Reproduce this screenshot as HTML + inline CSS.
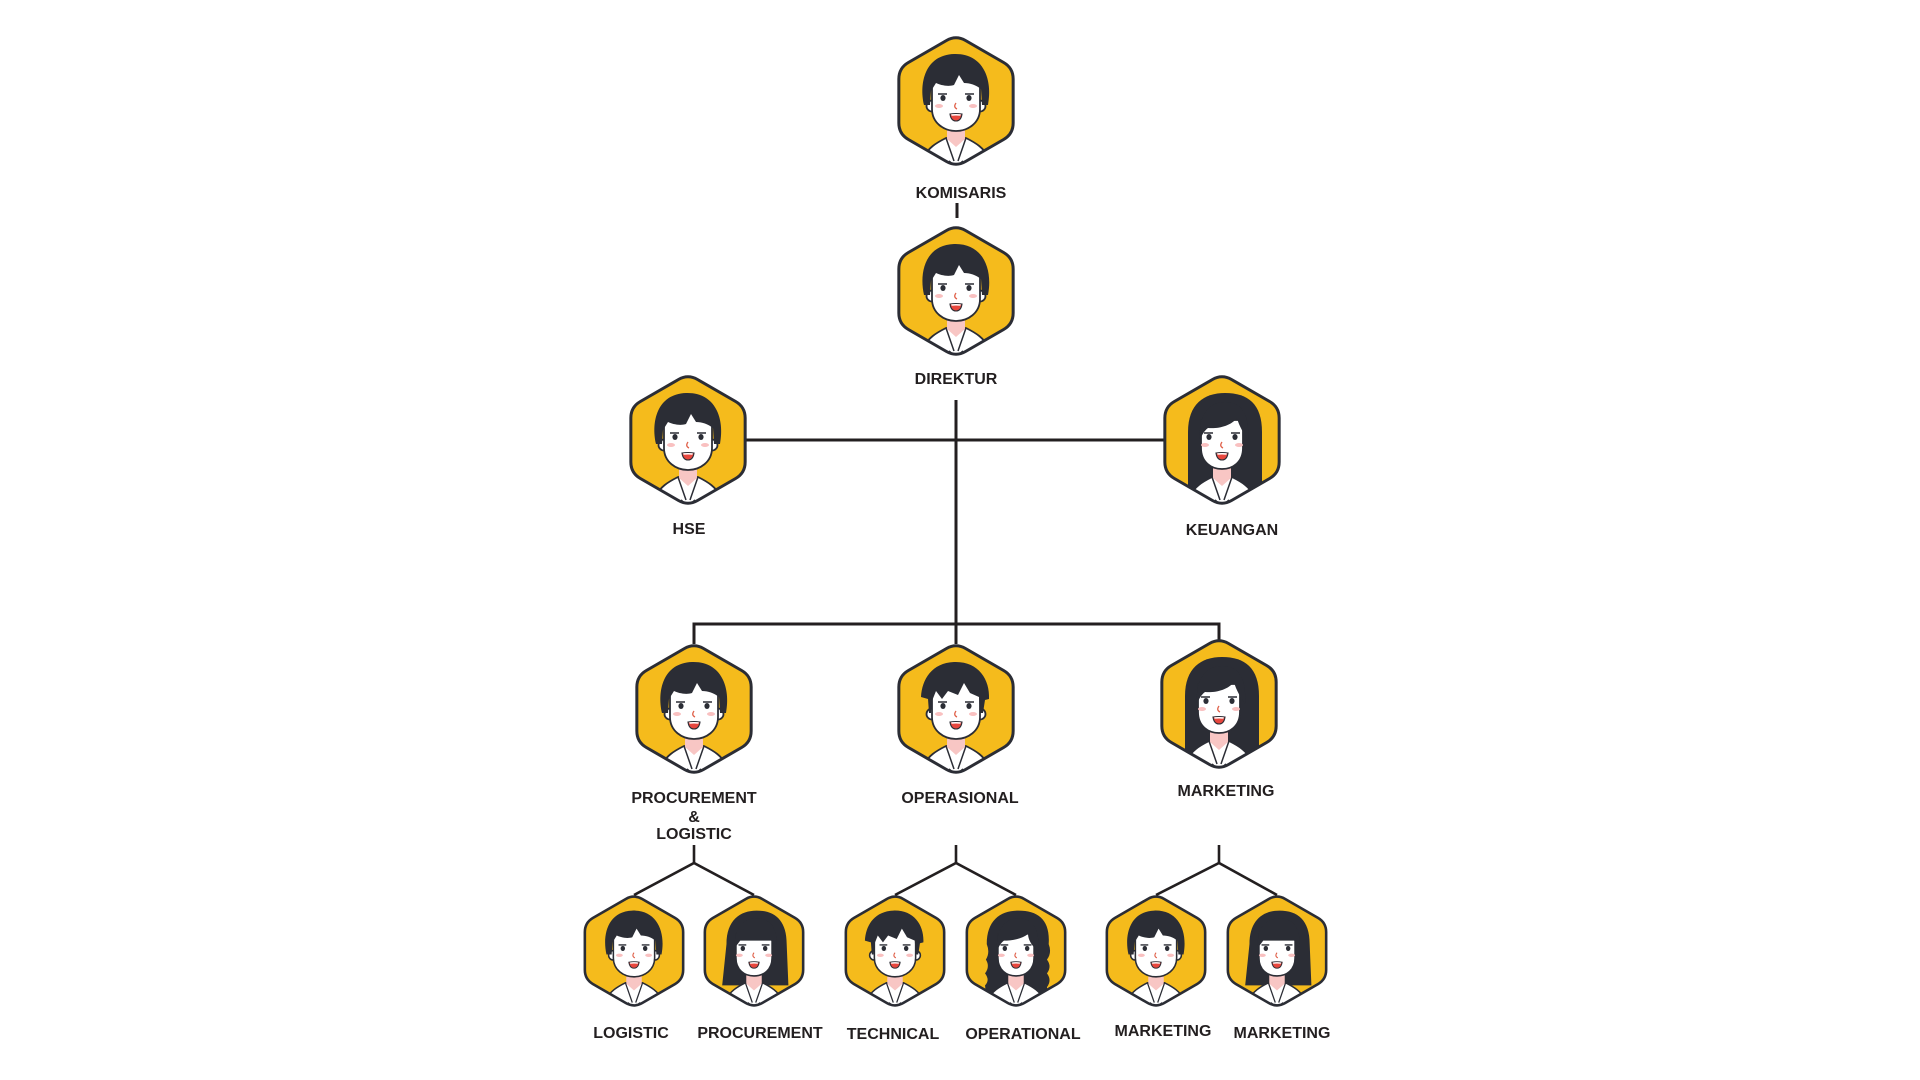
<!DOCTYPE html>
<html>
<head>
<meta charset="utf-8">
<style>
  html,body{margin:0;padding:0;background:#fff;}
  svg{display:block;}
  text{font-family:"Liberation Sans",Arial,sans-serif;font-weight:bold;font-size:16px;fill:#231f20;text-anchor:middle;}
</style>
</head>
<body>
<svg width="1920" height="1080" viewBox="0 0 1920 1080" xmlns="http://www.w3.org/2000/svg">
<defs>
  <path id="hexp" d="M-9.53,-60.5 Q0,-66 9.53,-60.5 L47.63,-38.5 Q57.16,-33 57.16,-22 L57.16,22 Q57.16,33 47.63,38.5 L9.53,60.5 Q0,66 -9.53,60.5 L-47.63,38.5 Q-57.16,33 -57.16,22 L-57.16,-22 Q-57.16,-33 -47.63,-38.5 Z"/>
  <clipPath id="hc"><use href="#hexp"/></clipPath>

  <!-- neck + shirt -->
  <g id="body">
    <path d="M-26,72 L-32,56 C-28,47 -20,42 -10,37 L10,37 C20,42 28,47 32,56 L26,72 Z" fill="#ffffff" stroke="#2b2d35" stroke-width="1.8" stroke-linejoin="round"/>
    <path d="M-9,18 L-9,38 L0,46 L9,38 L9,18 Z" fill="#f8c6c4"/>
    <path d="M-10,37 L-2,60 M10,37 L2,60 M-7,60 L0,66 L7,60" fill="none" stroke="#2b2d35" stroke-width="1.5"/>
  </g>

  <!-- facial features -->
  <g id="feat">
    <path d="M-18,-7 L-9,-7 M9,-7 L18,-7" stroke="#2b2d35" stroke-width="1.6" fill="none"/>
    <ellipse cx="-13" cy="-3" rx="2.6" ry="3" fill="#2b2d35"/>
    <ellipse cx="13" cy="-3" rx="2.6" ry="3" fill="#2b2d35"/>
    <ellipse cx="-17" cy="5" rx="4" ry="2" fill="#f9c0c0"/>
    <ellipse cx="17" cy="5" rx="4" ry="2" fill="#f9c0c0"/>
    <path d="M0,2 Q-3,6 1,8" stroke="#e0614a" stroke-width="1.3" fill="none"/>
    <path d="M-6,13 Q0,12 6,13 Q5,20 0,20 Q-5,20 -6,13 Z" fill="#e8473e" stroke="#2b2d35" stroke-width="1.1"/>
    <path d="M-4.8,13.3 Q0,12.6 4.8,13.3 L4.4,14.8 Q0,14.3 -4.4,14.8 Z" fill="#fff"/>
  </g>

  <!-- male face -->
  <g id="faceM">
    <circle cx="-24" cy="5" r="5.5" fill="#fff" stroke="#2b2d35" stroke-width="1.8"/>
    <circle cx="24" cy="5" r="5.5" fill="#fff" stroke="#2b2d35" stroke-width="1.8"/>
    <path d="M-24,-32 L-24,8 C-24,22 -12,30 0,30 C12,30 24,22 24,8 L24,-32 Z" fill="#fff" stroke="#2b2d35" stroke-width="1.8"/>
    <use href="#feat"/>
  </g>
  <!-- female face -->
  <g id="faceF">
    <path d="M-21,-20 L-21,8 C-21,22 -11,29 0,29 C11,29 21,22 21,8 L21,-20 Z" fill="#fff" stroke="#2b2d35" stroke-width="1.8"/>
    <use href="#feat"/>
  </g>

  <!-- avatar variants -->
  <g id="avM1">
    <use href="#hexp" fill="#F5BB1C"/>
    <g clip-path="url(#hc)">
      <use href="#body"/>
      <use href="#faceM"/>
      <path d="M-32,4 C-37,-18 -31,-46 -2,-47 C27,-48 37,-22 32,4 L26,4 L25,-12 C20,-16 14,-18 8,-18 L3,-26 L-2,-16 C-8,-14 -16,-16 -20,-18 L-25,-10 L-26,4 Z" fill="#2b2d35"/>
    </g>
    <use href="#hexp" fill="none" stroke="#2b2d35" stroke-width="3"/>
  </g>

  <g id="avM2">
    <use href="#hexp" fill="#F5BB1C"/>
    <g clip-path="url(#hc)">
      <use href="#body"/>
      <use href="#faceM"/>
      <path d="M-27,4 L-28,-10 L-35,-12 C-34,-30 -24,-46 -2,-47 C22,-48 34,-30 33,-10 L29,-9 L27,4 L24,4 L23,-12 L14,-16 L8,-26 L2,-14 L-8,-18 L-14,-10 L-20,-18 L-24,-8 L-25,4 Z" fill="#2b2d35"/>
    </g>
    <use href="#hexp" fill="none" stroke="#2b2d35" stroke-width="3"/>
  </g>

  <g id="avFL">
    <use href="#hexp" fill="#F5BB1C"/>
    <g clip-path="url(#hc)">
      <path d="M-34,60 L-34,-8 C-34,-36 -18,-47 3,-47 C26,-47 40,-36 40,-8 L40,60 Z" fill="#2b2d35"/>
      <use href="#body"/>
      <use href="#faceF"/>
      <path d="M-22,0 C-24,-26 -12,-38 3,-38 C18,-38 28,-28 26,0 C22,-6 17,-14 15,-22 C9,-14 -4,-11 -14,-12 C-18,-9 -20,-5 -22,0 Z" fill="#2b2d35"/>
    </g>
    <use href="#hexp" fill="none" stroke="#2b2d35" stroke-width="3"/>
  </g>

  <g id="avFW">
    <use href="#hexp" fill="#F5BB1C"/>
    <g clip-path="url(#hc)">
      <path d="M-34,60 L-36,40 Q-30,34 -36,26 Q-30,18 -35,10 Q-30,2 -34,-8 C-34,-36 -18,-47 3,-47 C26,-47 40,-36 38,-8 Q42,2 36,10 Q42,18 36,26 Q42,34 36,42 L38,60 Z" fill="#2b2d35"/>
      <use href="#body"/>
      <use href="#faceF"/>
      <path d="M-22,0 C-24,-26 -12,-38 3,-38 C18,-38 28,-28 26,0 C20,-4 14,-12 14,-20 C8,-14 -6,-12 -14,-12 C-18,-9 -20,-5 -22,0 Z" fill="#2b2d35"/>
    </g>
    <use href="#hexp" fill="none" stroke="#2b2d35" stroke-width="3"/>
  </g>

  <g id="avFB">
    <use href="#hexp" fill="#F5BB1C"/>
    <g clip-path="url(#hc)">
      <path d="M-37,40 L-32,-8 C-32,-36 -16,-47 3,-47 C24,-47 38,-36 38,-8 L40,40 Z" fill="#2b2d35"/>
      <use href="#body"/>
      <use href="#faceF"/>
      <path d="M-22,-4 C-24,-28 -12,-38 3,-38 C18,-38 28,-28 26,-4 L20,-12 L-16,-12 Z" fill="#2b2d35"/>
    </g>
    <use href="#hexp" fill="none" stroke="#2b2d35" stroke-width="3"/>
  </g>
</defs>

<!-- connectors -->
<g stroke="#231f20" stroke-width="3" fill="none">
  <line x1="957" y1="203" x2="957" y2="218"/>
  <line x1="956" y1="400" x2="956" y2="644"/>
  <line x1="745" y1="440" x2="1166" y2="440"/>
  <polyline points="694,644 694,624 1219,624 1219,640"/>
</g>
<g stroke="#231f20" stroke-width="2.6" fill="none">
  <polyline points="694,845 694,863"/>
  <polyline points="634,895 694,863 754,895"/>
  <polyline points="956,845 956,863"/>
  <polyline points="895,895 956,863 1016,895"/>
  <polyline points="1219,845 1219,863"/>
  <polyline points="1156,895 1219,863 1277,895"/>
</g>

<!-- avatars -->
<use href="#avM1" transform="translate(956,101)"/>
<use href="#avM1" transform="translate(956,291)"/>
<use href="#avM1" transform="translate(688,440)"/>
<use href="#avFL" transform="translate(1222,440)"/>
<use href="#avM1" transform="translate(694,709)"/>
<use href="#avM2" transform="translate(956,709)"/>
<use href="#avFL" transform="translate(1219,704)"/>

<use href="#avM1" transform="translate(634,951) scale(0.86)"/>
<use href="#avFB" transform="translate(754,951) scale(0.86)"/>
<use href="#avM2" transform="translate(895,951) scale(0.86)"/>
<use href="#avFW" transform="translate(1016,951) scale(0.86)"/>
<use href="#avM1" transform="translate(1156,951) scale(0.86)"/>
<use href="#avFB" transform="translate(1277,951) scale(0.86)"/>

<!-- labels -->
<text x="961" y="198">KOMISARIS</text>
<text x="956" y="384">DIREKTUR</text>
<text x="689" y="534">HSE</text>
<text x="1232" y="535">KEUANGAN</text>
<text x="694" y="803">PROCUREMENT</text>
<text x="694" y="822">&amp;</text>
<text x="694" y="839">LOGISTIC</text>
<text x="960" y="803">OPERASIONAL</text>
<text x="1226" y="796">MARKETING</text>

<text x="631" y="1038">LOGISTIC</text>
<text x="760" y="1038">PROCUREMENT</text>
<text x="893" y="1039">TECHNICAL</text>
<text x="1023" y="1039">OPERATIONAL</text>
<text x="1163" y="1036">MARKETING</text>
<text x="1282" y="1038">MARKETING</text>
</svg>
</body>
</html>
